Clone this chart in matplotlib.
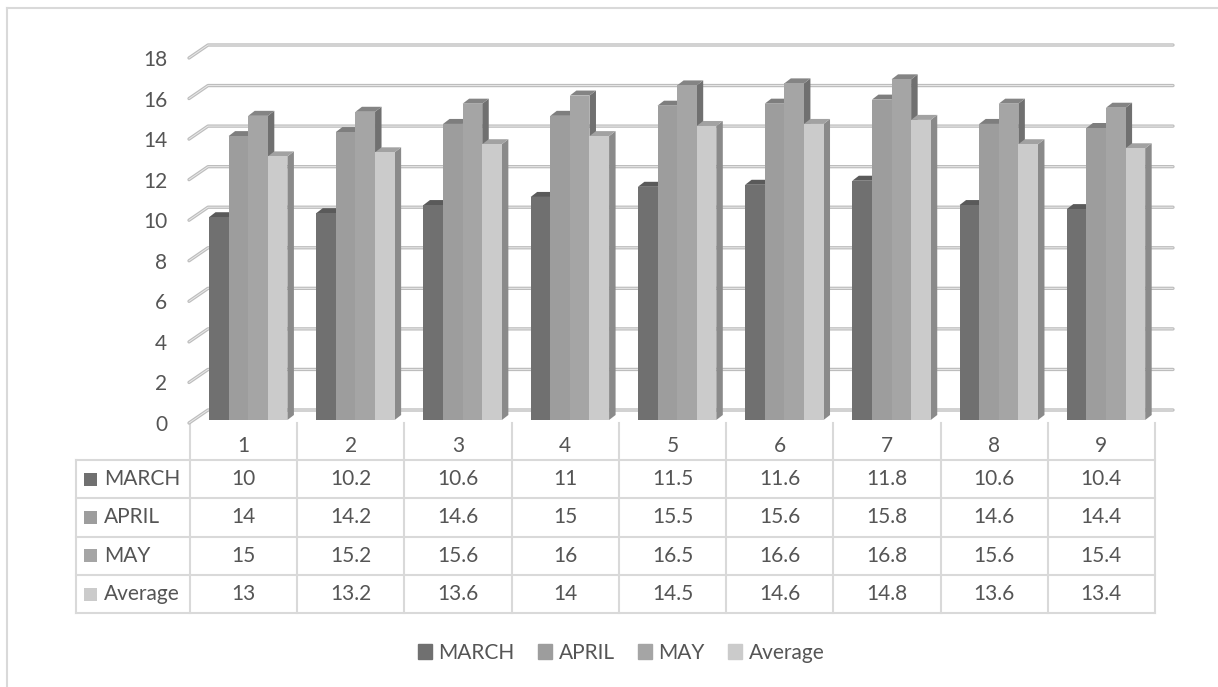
import matplotlib.pyplot as plt
import matplotlib.transforms as mtransforms
from matplotlib.patches import Patch, Polygon, Rectangle
from matplotlib.colors import to_rgb

plt.rcParams['font.family'] = ['Lato', 'DejaVu Sans']

# data
categories = ['1', '2', '3', '4', '5', '6', '7', '8', '9']
march = [10, 10.2, 10.6, 11, 11.5, 11.6, 11.8, 10.6, 10.4]
april = [14, 14.2, 14.6, 15, 15.5, 15.6, 15.8, 14.6, 14.4]
may = [15, 15.2, 15.6, 16, 16.5, 16.6, 16.8, 15.6, 15.4]
average = [13, 13.2, 13.6, 14, 14.5, 14.6, 14.8, 13.6, 13.4]
series_names = ['MARCH', 'APRIL', 'MAY', 'Average']
series = [march, april, may, average]
colors = ['#707070', '#9d9d9d', '#a5a5a5', '#cbcbcb']
yticks = list(range(0, 19, 2))

text_col = '#555555'
line_col = '#d9d9d9'
fs = 15

W, H = 1218, 687
fig = plt.figure(figsize=(W / 100, H / 100), dpi=100)


def px_box(x0, y0, x1, y1):
    # pixel box (origin top-left) -> figure fraction
    return [x0 / W, 1 - y1 / H, (x1 - x0) / W, (y1 - y0) / H]


def shade(c, f):
    r, g, b = to_rgb(c)
    return (r * f, g * f, b * f)


# background layer in pixel coords (border + data table)
bg = fig.add_axes([0, 0, 1, 1], zorder=0)
bg.set_xlim(0, W)
bg.set_ylim(H, 0)
bg.axis('off')
bg.plot([7, 7], [H, 8], color=line_col, lw=1.5)
bg.plot([7, W], [8, 8], color=line_col, lw=1.5)

# chart
ax_l, ax_r, ax_t, ax_b = 190, 1155, 58, 423
ax = fig.add_axes(px_box(ax_l, ax_t, ax_r, ax_b), zorder=1)
ax.patch.set_visible(False)
ax.set_xlim(-0.5, len(categories) - 0.5)
ax.set_ylim(0, 18)
for s in ax.spines.values():
    s.set_visible(False)
ax.set_xticks([])
ax.set_yticks(yticks)
ax.tick_params(axis='y', length=0, pad=16.5, labelsize=fs, labelcolor=text_col)

ppx = (ax_r - ax_l) / len(categories)   # pixels per category
ppy = (ax_b - ax_t) / 18.0               # pixels per unit

# back wall gridlines
gx, gy = 18 / ppx, 13 / ppy
for v in yticks:
    xs = [-0.5 - 1 / ppx, -0.5 + gx, len(categories) - 0.5 + gx]
    ys = [v, v + gy, v + gy]
    ax.plot(xs, ys, color='#bdbdbd', lw=2.4, solid_capstyle='round', clip_on=False, zorder=1)
    ax.plot(xs, ys, color='#e9e9e9', lw=0.7, solid_capstyle='round', clip_on=False, zorder=1)

# 3d-ish bars
bar_w = 19.6 / ppx
group_off = -34.6 / ppx
dx, dy = 6.5 / ppx, 5 / ppy
bar_tr = mtransforms.offset_copy(ax.transData, fig=fig, x=0, y=3, units='dots')
for i in range(len(categories)):
    for k, vals in enumerate(series):
        x0 = i + group_off + k * bar_w
        x1 = x0 + bar_w
        v = vals[i]
        ax.add_patch(Polygon([(x1, 0), (x1 + dx, dy), (x1 + dx, v + dy), (x1, v)],
                             closed=True, fc=shade(colors[k], 0.68), ec='none',
                             transform=bar_tr, zorder=3, clip_on=False))
        ax.add_patch(Polygon([(x0, v), (x1, v), (x1 + dx, v + dy), (x0 + dx, v + dy)],
                             closed=True, fc=shade(colors[k], 0.8), ec='none',
                             transform=bar_tr, zorder=3, clip_on=False))
        ax.bar(x0, v, width=bar_w, align='edge', color=colors[k], lw=0,
               transform=bar_tr, zorder=3, clip_on=False)

# data table
col_x = [ax_l + ppx * i for i in range(len(categories) + 1)]
row_y = [460 + 38.33 * j for j in range(len(series) + 1)]
tab_left = 76
for x in col_x:
    bg.plot([x, x], [ax_b, row_y[-1]], color=line_col, lw=1.5)
bg.plot([tab_left, tab_left], [row_y[0], row_y[-1]], color=line_col, lw=1.5)
for y in row_y:
    bg.plot([tab_left, col_x[-1]], [y, y], color=line_col, lw=1.5)
for i, c in enumerate(categories):
    bg.text((col_x[i] + col_x[i + 1]) / 2, 446, c, ha='center', va='center',
            fontsize=fs, color=text_col)
for j, (name, vals) in enumerate(zip(series_names, series)):
    yc = (row_y[j] + row_y[j + 1]) / 2
    bg.add_patch(Rectangle((84, yc - 6.5), 13, 13, fc=colors[j], ec='none'))
    bg.text(104, yc, name, ha='left', va='center', fontsize=fs, color=text_col)
    for i, v in enumerate(vals):
        bg.text((col_x[i] + col_x[i + 1]) / 2, yc, f'{v:g}', ha='center', va='center',
                fontsize=fs, color=text_col)

# legend
handles = [Patch(color=c) for c in colors]
fig.legend(handles, series_names, loc='center', bbox_to_anchor=(621 / W, 1 - 653 / H),
           ncol=4, frameon=False, fontsize=fs, labelcolor=text_col,
           handlelength=0.7, handleheight=0.7, handletextpad=0.3, columnspacing=1.1)

fig.savefig('out.png', dpi=100)
